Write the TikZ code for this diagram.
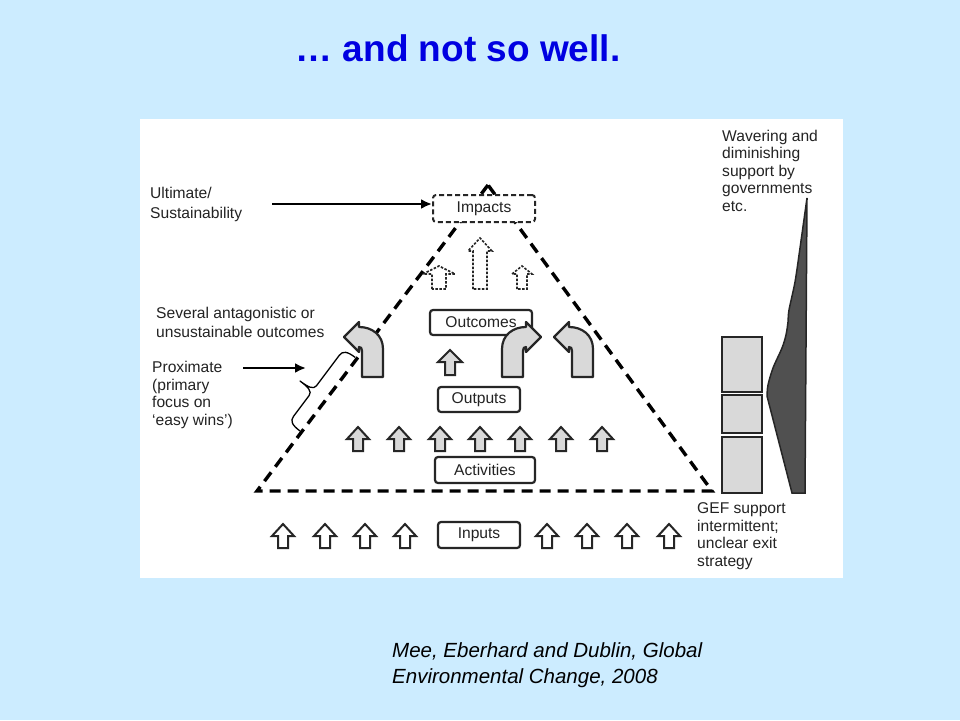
\documentclass[tikz,border=0pt]{standalone}
\usepackage{fontspec}
\setmainfont{Liberation Sans}
\usetikzlibrary{arrows.meta}

\definecolor{slideblue}{RGB}{204,236,255}
\definecolor{titleblue}{RGB}{0,0,225}
\definecolor{boxgray}{RGB}{217,217,217}
\definecolor{wavegray}{RGB}{80,80,80}
\definecolor{inkgray}{RGB}{35,35,35}

\tikzset{
    pics/uparr/.style n args={4}{code={
        \draw[pic actions] (-#4,0) -- (-#4,-#2) -- (-#3,-#2) -- (0,-#1)
            -- (#3,-#2) -- (#4,-#2) -- (#4,0) -- cycle;
    }},
    pics/bendarr/.style={code={
        \draw[pic actions] (0,0) -- (0,-26) .. controls (0,-29) and (-1,-30) .. (-3,-30)
            -- (-3,-25) -- (-18,-40) -- (-3,-55) -- (-3,-50)
            .. controls (10,-50) and (21,-42) .. (21,-28) -- (21,0) -- cycle;
    }}
}

\begin{document}
\begin{tikzpicture}
    [x=1pt,y=-1pt,
     lbl/.style={font=\fontsize{15.6}{17.6}\selectfont,text=inkgray,align=left,inner sep=0pt,anchor=north west},
     stage/.style={draw=black!85,line width=2.2pt,rounded corners=3pt,fill=white,inner sep=0pt,
        font=\fontsize{15.6}{17.6}\selectfont,text=inkgray},
     pyramid/.style={line width=3.4pt,dash pattern=on 11pt off 7pt,line join=miter},
     fillarr/.style={fill=boxgray,draw=black!85,line width=2pt},
     openarr/.style={fill=white,draw=black!85,line width=2pt},
     dotarr/.style={fill=white,draw=black!85,line width=1.6pt,dash pattern=on 2.5pt off 1.5pt},
     bendstyle/.style={fill=boxgray,draw=black!85,line width=2.2pt,line join=round},
     gefbox/.style={draw=black!85,fill=boxgray,line width=2.2pt,minimum width=40pt,inner sep=0pt},
     pointer/.style={line width=2.8pt,-{Latex[length=11pt,width=10pt]}}]
    \useasboundingbox (0,0) rectangle (960,720);
    \fill[slideblue] (0,0) rectangle (960,720);
    \fill[white] (140,119) rectangle (843,578);

    % title and source
    \node[font=\fontsize{37}{44}\selectfont\bfseries,text=titleblue,anchor=base] (title) at (458,61) {… and not so well.};
    \node[font=\fontsize{20.5}{26}\selectfont\itshape,align=left,inner sep=0pt,anchor=north west] (source) at (392,642)
        {Mee, Eberhard and Dublin, Global\\Environmental Change, 2008};

    % pyramid
    \coordinate (apex) at (488,185);
    \coordinate (baseL) at (257,491);
    \coordinate (baseR) at (712,491);
    \draw[pyramid] (apex) -- (baseL) -- (baseR) -- cycle;

    % stages
    \node[stage,dash pattern=on 5pt off 3pt,line width=2pt,minimum width=102pt,minimum height=27pt] (impacts) at (484,208.5) {Impacts};
    \node[stage,minimum width=102pt,minimum height=25pt] (outcomes) at (481,322.5) {Outcomes};
    \node[stage,minimum width=82pt,minimum height=25pt] (outputs) at (479,399.5) {Outputs};
    \node[stage,minimum width=100pt,minimum height=26pt] (activities) at (485,470) {Activities};
    \node[stage,minimum width=82pt,minimum height=26pt] (inputs) at (479,535) {Inputs};

    % block arrows
    \pic[dotarr] at (439,289) {uparr={23}{15}{16}{7}};
    \pic[dotarr] at (480,289) {uparr={51}{38}{12}{7}};
    \pic[dotarr] at (522,289) {uparr={23}{15}{10}{5}};
    \pic[fillarr] at (450,375) {uparr={25}{13}{12}{5}};
    \foreach \x in {358,399,440,480,520,561,602}
        \pic[fillarr] at (\x,451) {uparr={24}{12}{11}{5}};
    \foreach \x in {283,325,365,405,547,587,627,669}
        \pic[openarr] at (\x,548) {uparr={24}{12}{11}{5}};
    \pic[bendstyle] at (362,377) {bendarr};
    \pic[bendstyle,xscale=-1] at (523,377) {bendarr};
    \pic[bendstyle] at (572,377) {bendarr};

    % labels on the left
    \node[lbl,font=\fontsize{15.6}{20}\selectfont] (ultimate) at (150,187) {Ultimate/\\Sustainability};
    \node[lbl,font=\fontsize{15.6}{19}\selectfont] (several) at (156,307) {Several antagonistic or\\unsustainable outcomes};
    \node[lbl] (proximate) at (152,361) {Proximate\\(primary\\focus on\\‘easy wins’)};
    \coordinate (ultstart) at (272,204);
    \draw[pointer] (ultstart) -- (impacts.west |- ultstart);
    \coordinate (proxstart) at (243,368);
    \coordinate (proxend) at (306,368);
    \draw[pointer] (proxstart) -- (proxend);
    % brace along the left side
    \draw[line width=1.3pt,line join=round] (300,431) .. controls (292,425) and (290,421) .. (293.6,416.2)
        -- (309.2,395.4) .. controls (312.2,391.4) and (308,387) .. (300,381)
        .. controls (308,387) and (313.4,389.8) .. (316.4,385.8)
        -- (339.2,355.4) .. controls (342.8,350.6) and (347.2,351.4) .. (355.2,357.4);

    % support on the right
    \node[gefbox,minimum height=55pt] (gefa) at (742,364.5) {};
    \node[gefbox,minimum height=38pt] (gefb) at (742,414) {};
    \node[gefbox,minimum height=56pt] (gefc) at (742,465) {};
    \draw[fill=wavegray,draw=black!85,line width=1.5pt] plot[smooth] coordinates
        {(807,198) (800,248) (795,282) (789,310) (788,322) (786,335) (782,348) (773,368) (768,385) (767,396)}
        -- (792,493) -- (805,493) -- cycle;
    \node[lbl] (wavering) at (722,129.5) {Wavering and\\diminishing\\support by\\governments\\etc.};
    \node[lbl] (gefnote) at (697,502.5) {GEF support\\intermittent;\\unclear exit\\strategy};
\end{tikzpicture}
\end{document}
